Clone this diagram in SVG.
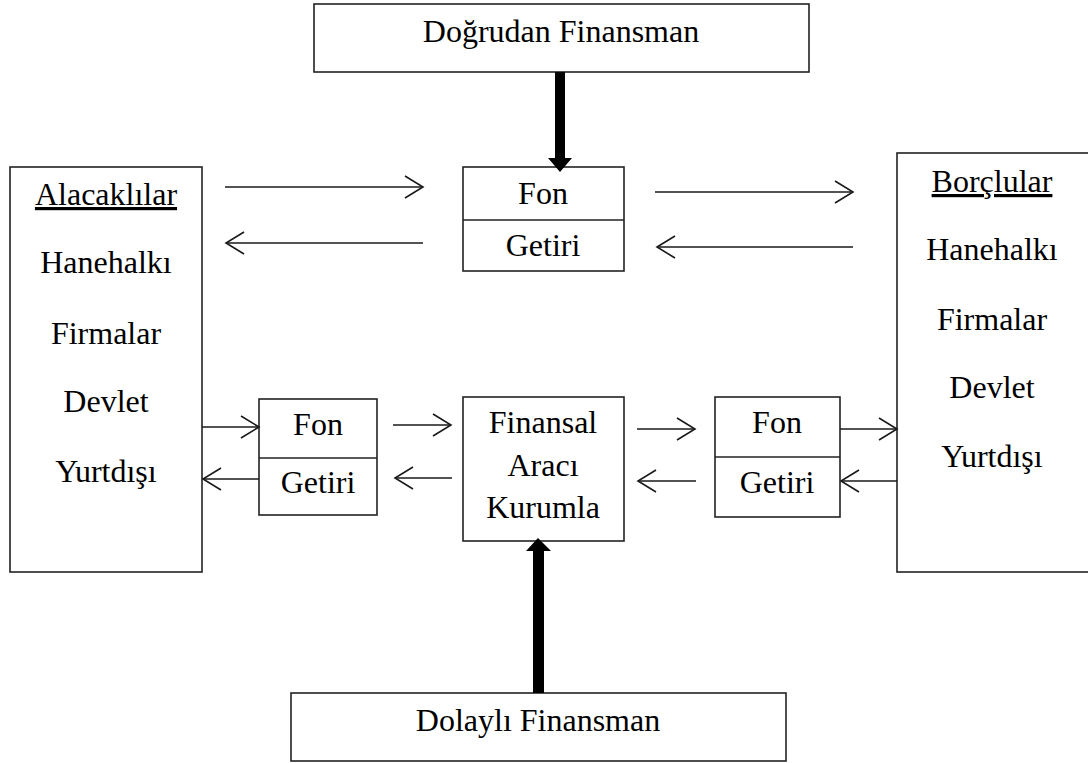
<svg xmlns="http://www.w3.org/2000/svg" width="1088" height="763" viewBox="0 0 1088 763">
<defs>
<style>
.box{fill:#fff;stroke:#222;stroke-width:1.6}
.t{font-family:'Liberation Serif','Times New Roman',serif;font-size:32px;fill:#000;text-anchor:middle}
.u{text-decoration:underline}
.a{stroke:#1a1a1a;stroke-width:1.6;fill:none;marker-end:url(#chev)}
.thick{fill:#000}
</style>
<marker id="chev" markerUnits="userSpaceOnUse" viewBox="-20 -13 22 26" refX="0" refY="0" markerWidth="22" markerHeight="26" orient="auto">
<path d="M-18,-11 L0,0 L-18,11" fill="none" stroke="#1a1a1a" stroke-width="1.6"/>
</marker>
</defs>
<rect width="1088" height="763" fill="#fff"/>

<g id="dogrudan">
<rect class="box" x="314" y="4" width="495" height="68" stroke-width="2"/>
<text class="t" x="561" y="42">Doğrudan Finansman</text>
</g>

<g id="fon-top">
<rect class="box" x="463" y="167" width="161" height="104"/>
<line x1="463" y1="220" x2="624" y2="220" stroke="#222" stroke-width="1.6"/>
<text class="t" x="543" y="204">Fon</text>
<text class="t" x="543" y="256">Getiri</text>
</g>

<g id="alacaklilar">
<rect class="box" x="10" y="167" width="192" height="405"/>
<text class="t u" x="106" y="205">Alacaklılar</text>
<text class="t" x="106" y="273">Hanehalkı</text>
<text class="t" x="106" y="344">Firmalar</text>
<text class="t" x="106" y="412">Devlet</text>
<text class="t" x="106" y="482">Yurtdışı</text>
</g>

<g id="borclular">
<rect class="box" x="897" y="153" width="200" height="419"/>
<text class="t u" x="992" y="192">Borçlular</text>
<text class="t" x="992" y="260">Hanehalkı</text>
<text class="t" x="992" y="330">Firmalar</text>
<text class="t" x="992" y="398">Devlet</text>
<text class="t" x="992" y="467">Yurtdışı</text>
</g>

<g id="fon-left">
<rect class="box" x="259" y="399" width="118" height="116"/>
<line x1="259" y1="458" x2="377" y2="458" stroke="#222" stroke-width="1.6"/>
<text class="t" x="318" y="435">Fon</text>
<text class="t" x="318" y="493">Getiri</text>
</g>

<g id="finansal">
<rect class="box" x="463" y="397" width="161" height="144"/>
<text class="t" x="543" y="433">Finansal</text>
<text class="t" x="543" y="476">Aracı</text>
<text class="t" x="543" y="518">Kurumla</text>
</g>

<g id="fon-right">
<rect class="box" x="715" y="397" width="125" height="120"/>
<line x1="715" y1="457" x2="840" y2="457" stroke="#222" stroke-width="1.6"/>
<text class="t" x="777" y="433">Fon</text>
<text class="t" x="777" y="493">Getiri</text>
</g>

<g id="dolayli">
<rect class="box" x="291" y="693" width="495" height="68" stroke-width="2"/>
<text class="t" x="538" y="731">Dolaylı Finansman</text>
</g>

<g id="connectors">
<line class="a" x1="225" y1="187" x2="423" y2="187"/>
<line class="a" x1="423" y1="243" x2="226" y2="243"/>
<line class="a" x1="655" y1="192" x2="853" y2="192"/>
<line class="a" x1="853" y1="247" x2="657" y2="247"/>
<line class="a" x1="202" y1="427" x2="259" y2="427"/>
<line class="a" x1="259" y1="479" x2="203" y2="479"/>
<line class="a" x1="393" y1="425" x2="451" y2="425"/>
<line class="a" x1="452" y1="478" x2="395" y2="478"/>
<line class="a" x1="637" y1="429" x2="695" y2="429"/>
<line class="a" x1="696" y1="481" x2="638" y2="481"/>
<line class="a" x1="840" y1="429" x2="897" y2="429"/>
<line class="a" x1="897" y1="481" x2="841" y2="481"/>
<rect class="thick" x="555" y="72" width="10" height="88"/>
<polygon class="thick" points="548,158 572,158 560,172"/>
<rect class="thick" x="533" y="549" width="11" height="144"/>
<polygon class="thick" points="526,551 551,551 538,538"/>
</g>
</svg>
